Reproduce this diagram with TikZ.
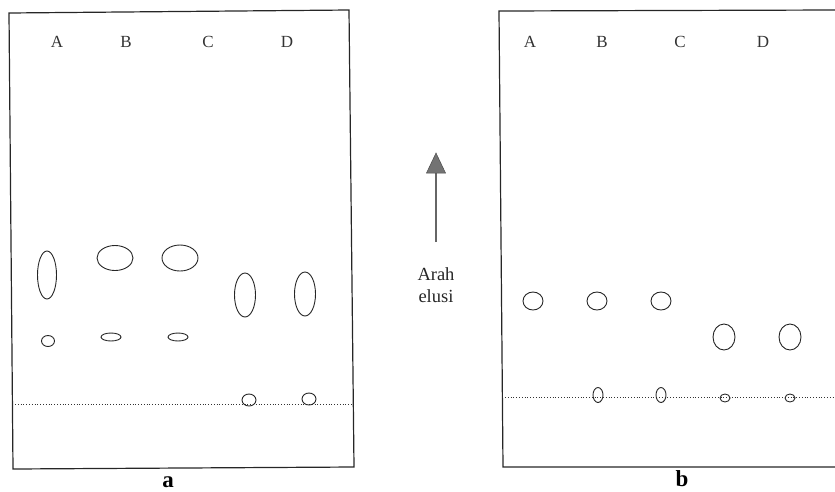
\documentclass[tikz,border=0pt]{standalone}
\usepackage{fontspec}
\setmainfont{Liberation Serif}
\usetikzlibrary{calc}
\begin{document}
\begin{tikzpicture}[x=1pt,y=-1pt,
  plate/.style={line width=1.2pt,draw=black!85},
  spot/.style={line width=0.9pt,draw=black!85},
  origin/.style={line width=0.8pt,dotted,draw=black!80},
  lane/.style={font=\fontsize{17}{20}\selectfont,text=black!80},
  platecap/.style={font=\fontsize{23}{25}\selectfont\bfseries},
  note/.style={font=\fontsize{18.5}{22}\selectfont,align=center,text=black!85}]
\useasboundingbox (0,0) rectangle (835,491);
% plate a
\draw[plate] (9,13) -- (349,10) -- (354,467) -- (13,469) -- cycle;
\draw[origin] (15,404) -- (352,404);
\node[lane] (aA) at (57,42) {A};
\node[lane] (aB) at (126,42) {B};
\node[lane] (aC) at (208,42) {C};
\node[lane] (aD) at (287,42) {D};
\draw[spot] (47,275) ellipse [x radius=9.5pt, y radius=24pt];
\draw[spot] (115,258) ellipse [x radius=18pt, y radius=12.5pt];
\draw[spot] (180,258) ellipse [x radius=18pt, y radius=13pt];
\draw[spot] (245,295) ellipse [x radius=10.5pt, y radius=22pt];
\draw[spot] (305,294) ellipse [x radius=10.5pt, y radius=22pt];
\draw[spot] (48,341) ellipse [x radius=6.5pt, y radius=5.5pt];
\draw[spot] (111,337) ellipse [x radius=10pt, y radius=4pt];
\draw[spot] (178,337) ellipse [x radius=10pt, y radius=4pt];
\draw[spot] (249,400) ellipse [x radius=7pt, y radius=6pt];
\draw[spot] (309,399) ellipse [x radius=7pt, y radius=6pt];
\node[platecap] (capa) at (168,482) {a};
% plate b
\draw[plate] (835,10) -- (499,11) -- (503,467) -- (835,467);
\draw[origin] (505,397) -- (835,397);
\node[lane] (bA) at (530,42) {A};
\node[lane] (bB) at (602,42) {B};
\node[lane] (bC) at (680,42) {C};
\node[lane] (bD) at (763,42) {D};
\draw[spot] (533,301) ellipse [x radius=10pt, y radius=9pt];
\draw[spot] (597,301) ellipse [x radius=10pt, y radius=9pt];
\draw[spot] (661,301) ellipse [x radius=10pt, y radius=9pt];
\draw[spot] (724,337) ellipse [x radius=11pt, y radius=13pt];
\draw[spot] (790,337) ellipse [x radius=11pt, y radius=13pt];
\draw[spot] (598,395) ellipse [x radius=5pt, y radius=7.5pt];
\draw[spot] (661,395) ellipse [x radius=5pt, y radius=7.5pt];
\draw[spot] (725,398) ellipse [x radius=5pt, y radius=4pt];
\draw[spot] (790,398) ellipse [x radius=5pt, y radius=4pt];
\node[platecap] (capb) at (682,479) {b};
% elution arrow
\coordinate (tail) at (436,242);
\coordinate (base) at (436,173);
\coordinate (tip) at (436,153);
\draw[line width=1.4pt,draw=black!60] (tail) -- (base);
\fill[black!55,draw=black!70,line width=0.5pt] ($(base)+(-9.5,0)$) -- (tip) -- ($(base)+(9.5,0)$) -- cycle;
\node[note] (dir) at (436,285) {Arah\\elusi};
\end{tikzpicture}
\end{document}
